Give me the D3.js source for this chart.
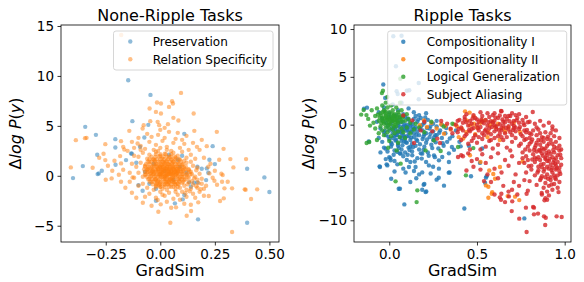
<!DOCTYPE html>
<html><head><meta charset="utf-8">
<script src="https://cdn.jsdelivr.net/npm/d3@7"></script>
<style>body{margin:0;background:#fff} text{font-family:"DejaVu Sans",sans-serif}</style>
</head><body><svg id="c" width="584" height="282"></svg>
<script>
// ---------- Left panel data (None-Ripple Tasks) ----------
const preservation = [[-0.147,9.57],[-0.045,8.1],[-0.128,5.47],[-0.344,4.9],[-0.295,4.1],[-0.206,3.67],[-0.055,5.1],[0.11,4.2],[0.24,2.97],[-0.289,2.1],[-0.206,2.84],[-0.13,2.2],[-0.355,0.97],[-0.4,-0.23],[-0.287,0.17],[-0.282,0.24],[-0.268,0.5],[-0.205,1.1],[-0.157,1.57],[-0.134,2.24],[0.398,0.7],[0.477,-0.16],[0.5,-1.63],[0.398,-4.7],[0.173,-4.36],[-0.1,-0.93],[-0.081,-1.5],[-0.02,-2.5],[0.067,-2.76],[0.103,-2.36],[0.11,-1.93],[0.133,-0.66],[0.171,-0.66],[0.213,0.74],[0.22,0.3],[0.25,1.17],[0.225,1.6],[-0.093,2.9],[-0.073,3.84],[0.1,2.0],[0.02,0.5],[-0.03,1.2],[0.06,-0.4],[0.09,0.9],[-0.05,-0.8],[0.12,0.3],[0.04,2.1],[-0.02,-1.3],[0.14,-1.1],[0.08,1.6],[-0.07,0.4],[0.17,0.9],[0.19,0.7],[-0.11,1.3],[0.155,-0.7],[0.21,-0.43]];

const relationSpecificity = [
[-0.179,14.1],[-0.005,11.2],[0.095,8.3],[-0.015,7.34],[0.003,7.24],[0.054,7.47],[0.058,7.24],[-0.049,6.74],[0.003,6.24],[0.153,6.24],[-0.046,5.47],[-0.012,5.4],[-0.005,5.07],[0.035,5.17],[0.083,5.54],[-0.076,5.07],[-0.387,3.57],[-0.345,3.77],[-0.338,3.8],[-0.252,3.17],[-0.18,3.47],[-0.142,4.5],[-0.081,4.74],[0.156,4.5],[0.259,4.4],[0.213,2.97],[0.168,2.9],[-0.104,3.24],[-0.165,2.64],[-0.41,0.84],[-0.252,1.57],[-0.223,-0.26],[-0.18,1.24],[-0.184,1.97],[0.321,1.67],[0.335,0.84],[0.393,1.67],[0.286,0.07],[0.309,-0.6],[0.283,-0.6],[0.329,-1.26],[0.294,-1.26],[0.387,-1.36],[0.391,-1.4],[0.444,-1.36],[0.416,-2.33],[0.291,-2.26],[0.274,-2.53],[0.222,-2.03],[0.174,-2.66],[0.141,-3.53],[0.121,-4.0],[0.046,-4.7],[0.329,-5.63],[-0.009,-3.6],[0.072,-3.16],[0.002,-2.86],[-0.012,-2.43],[-0.127,-0.16],[0.248,-0.5],[0.225,0.24],
[-0.05,3.4],[-0.02,3.1],[0.01,3.5],[0.03,2.9],[0.06,3.3],[-0.07,2.7],[0.09,2.8],[-0.03,2.6],[0.0,2.8],[0.05,2.5],[0.02,3.8],[-0.01,4.1],[0.04,4.4],[-0.04,3.9],[0.07,3.7],[0.11,3.2],[-0.09,3.0],[0.13,2.6],
[-0.08,2.3],[-0.05,2.1],[-0.02,2.4],[0.0,2.0],[0.02,2.2],[0.04,1.9],[0.06,2.3],[0.08,2.0],[0.1,2.4],[0.12,1.8],[-0.06,1.7],[-0.03,1.6],[0.01,1.7],[0.03,1.5],[0.05,1.6],[0.07,1.8],[0.09,1.6],[-0.1,1.9],[0.14,2.1],[-0.01,2.5],[0.03,2.6],[0.11,1.5],[-0.12,2.0],[0.16,1.7],
[-0.09,1.3],[-0.07,1.0],[-0.05,1.4],[-0.04,0.8],[-0.02,1.2],[-0.01,0.6],[0.0,1.4],[0.01,0.9],[0.02,1.3],[0.03,0.7],[0.04,1.1],[0.05,0.6],[0.06,1.4],[0.07,0.9],[0.08,1.2],[0.09,0.7],[0.1,1.1],[0.11,0.8],[0.12,1.3],[0.13,0.6],[0.15,1.0],[-0.11,0.9],[-0.06,0.6],[0.0,0.8],[0.02,1.0],[0.04,0.5],[0.06,0.8],[-0.03,1.0],[0.08,0.5],[0.14,1.4],[0.17,0.8],[-0.13,1.2],
[-0.1,0.3],[-0.08,-0.1],[-0.06,0.4],[-0.05,-0.3],[-0.03,0.2],[-0.02,-0.4],[-0.01,0.4],[0.0,-0.1],[0.01,0.3],[0.02,-0.3],[0.03,0.1],[0.04,-0.4],[0.05,0.3],[0.06,-0.2],[0.07,0.4],[0.08,0.0],[0.09,-0.3],[0.1,0.2],[0.11,-0.4],[0.12,0.1],[0.13,-0.2],[0.14,0.4],[0.16,-0.1],[0.18,0.2],[-0.12,-0.2],[-0.04,0.0],[0.02,0.5],[0.04,0.2],[0.06,0.1],[0.0,0.2],[-0.02,0.0],[0.03,-0.1],[0.08,0.3],[0.1,-0.1],[-0.07,0.1],[0.05,-0.5],[0.19,-0.3],[-0.14,0.3],
[-0.08,-0.8],[-0.06,-1.2],[-0.04,-0.6],[-0.02,-1.0],[0.0,-0.7],[0.01,-1.3],[0.02,-0.9],[0.03,-1.4],[0.04,-0.7],[0.05,-1.1],[0.06,-0.6],[0.07,-1.3],[0.08,-0.8],[0.09,-1.2],[0.1,-0.7],[0.11,-1.0],[0.12,-1.4],[0.13,-0.6],[0.15,-0.9],[0.17,-1.2],[-0.1,-1.0],[-0.01,-0.5],[0.03,-0.6],[0.07,-0.9],[0.14,-1.3],[0.19,-0.8],[-0.03,-1.4],[0.0,-1.1],[0.2,-1.3],
[-0.05,-1.8],[-0.02,-2.2],[0.0,-1.6],[0.02,-2.0],[0.04,-1.7],[0.06,-2.3],[0.08,-1.9],[0.1,-1.6],[0.12,-2.1],[0.15,-1.8],[-0.07,-2.1],[0.03,-2.6],[0.09,-2.4],[0.18,-1.6],[0.01,-1.9],[0.07,-1.6],
[-0.035,0.55],[-0.015,0.95],[0.005,0.35],[0.025,0.75],[0.045,0.15],[0.065,0.55],[0.015,-0.15],[0.035,0.45],[0.055,0.95],[0.075,0.25],[-0.025,-0.35],[-0.005,0.15],[0.015,0.65],[0.035,1.15],[0.055,-0.25],[0.075,0.65],[0.095,0.45],[-0.045,0.25],[0.005,1.05],[0.025,-0.55],[0.045,0.85],[0.065,-0.65],[0.085,0.85],[-0.055,0.75],[-0.015,-0.75],[0.105,0.55],[0.035,-0.85],[0.015,1.35],[-0.025,1.55],[0.055,1.25],[0.085,-0.45],[-0.005,-0.95],[0.025,0.05],[0.065,0.35],[0.045,-0.35],[0.005,0.55],
[-0.03,0.35],[0.0,0.05],[0.02,0.45],[0.04,0.65],[0.06,0.25],[0.01,0.15],[0.03,0.85],[0.05,0.45],[-0.01,0.75],[0.07,0.05],[0.02,-0.05],[0.04,0.35],[-0.02,0.55],[0.0,0.95],[0.06,0.65],[0.08,0.45],[0.03,0.25],[0.01,0.55],[-0.04,0.45],[0.05,0.15],
[-0.15,2.5],[-0.17,0.6],[-0.14,-0.6],[-0.12,2.8],[-0.16,-1.2],[-0.19,0.1],[-0.13,-1.7],[-0.11,-2.2],[-0.09,2.6],[0.2,1.8],[0.22,0.9],[0.24,-0.2],[0.21,-1.0],[0.23,1.2],[0.18,2.6],[0.16,-2.2],[0.2,-2.0],[0.15,3.3],[0.19,3.6],[0.12,4.0],[0.08,4.3],[-0.06,4.2],[-0.1,3.8],[-0.13,3.4],[-0.17,2.9],[-0.21,1.5],[-0.22,0.5],[-0.18,-0.6],[-0.08,-2.7],[-0.04,-3.0],[0.05,-3.2],[0.11,-2.8],[0.14,-2.9],[0.02,4.8],[0.06,5.8],[-0.02,6.4],[0.04,6.9],[0.0,4.6],[0.1,3.6],[0.17,-0.4],[0.25,0.5],[0.26,-0.9],[0.27,1.6],[0.29,2.7],[0.28,0.2],[-0.24,1.0],[-0.26,2.2],[-0.28,1.8],[-0.31,0.8],[-0.25,-0.4],
[-0.02,2.15],[0.0,2.15],[0.025,2.15],[0.05,2.15],
[-0.04,1.9],[-0.022,1.9],[-0.005,1.9],[0.013,1.9],[0.031,1.9],[0.049,1.9],[0.067,1.9],
[-0.05,1.65],[-0.033,1.65],[-0.016,1.65],[0.001,1.65],[0.018,1.65],[0.035,1.65],[0.052,1.65],[0.069,1.65],[0.086,1.65],
[-0.058,1.4],[-0.041,1.4],[-0.024,1.4],[-0.007,1.4],[0.01,1.4],[0.027,1.4],[0.044,1.4],[0.061,1.4],[0.078,1.4],[0.095,1.4],
[-0.066,1.15],[-0.049,1.15],[-0.032,1.15],[-0.015,1.15],[0.002,1.15],[0.019,1.15],[0.036,1.15],[0.053,1.15],[0.07,1.15],[0.087,1.15],[0.104,1.15],
[-0.07,0.9],[-0.053,0.9],[-0.036,0.9],[-0.019,0.9],[-0.002,0.9],[0.015,0.9],[0.032,0.9],[0.049,0.9],[0.066,0.9],[0.083,0.9],[0.1,0.9],[0.117,0.9],
[-0.074,0.65],[-0.057,0.65],[-0.04,0.65],[-0.023,0.65],[-0.006,0.65],[0.011,0.65],[0.028,0.65],[0.045,0.65],[0.062,0.65],[0.079,0.65],[0.096,0.65],[0.113,0.65],[0.13,0.65],
[-0.07,0.4],[-0.053,0.4],[-0.036,0.4],[-0.019,0.4],[-0.002,0.4],[0.015,0.4],[0.032,0.4],[0.049,0.4],[0.066,0.4],[0.083,0.4],[0.1,0.4],[0.117,0.4],[0.134,0.4],
[-0.066,0.15],[-0.049,0.15],[-0.032,0.15],[-0.015,0.15],[0.002,0.15],[0.019,0.15],[0.036,0.15],[0.053,0.15],[0.07,0.15],[0.087,0.15],[0.104,0.15],[0.121,0.15],[0.138,0.15],
[-0.062,-0.1],[-0.045,-0.1],[-0.028,-0.1],[-0.011,-0.1],[0.006,-0.1],[0.023,-0.1],[0.04,-0.1],[0.057,-0.1],[0.074,-0.1],[0.091,-0.1],[0.108,-0.1],[0.125,-0.1],
[-0.055,-0.35],[-0.038,-0.35],[-0.021,-0.35],[-0.004,-0.35],[0.013,-0.35],[0.03,-0.35],[0.047,-0.35],[0.064,-0.35],[0.081,-0.35],[0.098,-0.35],[0.115,-0.35],
[-0.048,-0.6],[-0.031,-0.6],[-0.014,-0.6],[0.003,-0.6],[0.02,-0.6],[0.037,-0.6],[0.054,-0.6],[0.071,-0.6],[0.088,-0.6],[0.105,-0.6],
[-0.035,-0.85],[-0.018,-0.85],[-0.001,-0.85],[0.016,-0.85],[0.033,-0.85],[0.05,-0.85],[0.067,-0.85],[0.084,-0.85],
[-0.02,-1.1],[0.0,-1.1],[0.02,-1.1],[0.04,-1.1],[0.06,-1.1],[0.08,-1.1],
[0.125,-0.85],[0.145,-0.55],[0.165,-1.05],[0.155,-0.25],[0.135,-1.55],[0.175,-0.75],[0.115,-1.75],[0.185,-1.35],[0.145,0.15],[0.165,0.55]
];

// ---------- Right panel data (Ripple Tasks) ----------
const compositionalityI = [
[0.023,9.24],[0.07,9.3],[0.038,6.1],[0.048,3.2],[0.1,3.55],[0.168,4.35],[0.114,3.6],[0.042,3.5],[-0.034,4.2],[0.168,2.65],[-0.023,2.8],[-0.144,1.67],[-0.127,1.78],[-0.117,-1.75],
[-0.055,-4.36],[0.006,-3.52],[0.054,-6.7],[0.086,-8.34],[0.196,-6.28],[0.211,-6.98],[0.15,-4.43],[0.282,-5.55],[0.312,-6.38],[0.339,-5.02],
[-0.053,-4.43],[0.011,-5.65],[0.061,-6.7],[0.207,-7.05],[0.188,-6.8],[0.2,-6.2],[0.154,-5.6],[0.27,-5.75],[0.344,-5.0],[0.236,-5.1],[0.093,-5.0],[-0.015,-4.15],
[-0.011,-4.26],[0.046,-4.15],[0.112,-4.43],[0.141,-4.85],[0.188,-4.99],[0.226,-4.26],[0.283,-4.6],[0.302,-3.39],[0.34,-3.91],[0.008,-3.73],[0.065,-3.03],[0.131,-3.21],[0.188,-3.03],[0.255,-3.21],[0.283,-3.73],[0.369,-2.62],[0.407,-2.27],[-0.021,-2.51],
[0.517,-4.0],[0.555,-5.4],[0.466,-5.4],[0.53,-2.5],[0.454,-2.2],[0.428,-8.76],[0.77,-9.8],[0.551,-5.54],[0.546,-6.07],[0.262,-1.1],[0.357,-2.34],
[-0.03,1.8],[0.0,1.2],[0.02,2.1],[0.05,1.5],[0.08,1.1],[0.11,1.7],[0.14,1.3],[0.17,1.0],[-0.06,1.3],[0.07,2.3],[0.21,1.2],[0.04,1.0],
[-0.04,0.6],[-0.02,0.2],[0.0,0.8],[0.02,0.4],[0.03,0.9],[0.05,0.2],[0.06,0.7],[0.08,0.3],[0.09,0.8],[0.11,0.5],[0.12,0.1],[0.14,0.6],[0.16,0.3],[0.18,0.7],[0.2,0.2],[0.22,0.5],[0.25,0.1],[0.27,0.4],[0.3,0.0],[0.01,0.1],[0.1,0.0],[0.15,0.9],[-0.07,0.3],[0.19,0.0],
[-0.05,-0.4],[-0.03,-0.8],[-0.01,-0.2],[0.0,-0.6],[0.02,-0.9],[0.03,-0.3],[0.04,-0.7],[0.05,-0.1],[0.06,-0.5],[0.07,-0.9],[0.08,-0.2],[0.09,-0.6],[0.1,-0.4],[0.11,-0.8],[0.12,-0.1],[0.13,-0.5],[0.14,-0.9],[0.15,-0.3],[0.16,-0.7],[0.18,-0.2],[0.19,-0.6],[0.21,-0.9],[0.23,-0.4],[0.25,-0.7],[0.27,-0.2],[0.29,-0.6],[0.32,-0.9],[0.02,-0.5],[0.05,-0.8],[0.08,-0.5],[0.11,-0.3],[0.06,-0.2],[0.035,-0.45],[0.075,-0.65],[0.095,-0.15],[0.125,-0.75],[0.145,-0.45],
[-0.06,-1.4],[-0.04,-1.8],[-0.02,-1.1],[0.0,-1.5],[0.01,-1.9],[0.03,-1.2],[0.04,-1.6],[0.05,-2.0],[0.06,-1.3],[0.07,-1.7],[0.08,-1.1],[0.09,-1.5],[0.1,-1.9],[0.11,-1.2],[0.12,-1.6],[0.13,-2.0],[0.14,-1.3],[0.16,-1.7],[0.17,-1.1],[0.19,-1.5],[0.21,-1.9],[0.23,-1.3],[0.25,-1.6],[0.27,-1.1],[0.3,-1.4],[0.33,-1.8],[0.36,-1.2],[0.04,-1.1],[0.07,-1.4],[0.1,-1.2],[0.02,-1.4],[0.085,-1.75],
[-0.03,-2.4],[-0.01,-2.8],[0.01,-2.3],[0.03,-2.7],[0.05,-2.2],[0.07,-2.6],[0.09,-2.9],[0.11,-2.4],[0.13,-2.8],[0.15,-2.2],[0.17,-2.6],[0.2,-2.3],[0.22,-2.9],[0.24,-2.1],[0.28,-2.5],[0.31,-2.2],[-0.05,-2.9],[0.06,-3.0],[0.18,-3.0],
[0.0,-3.4],[0.03,-3.8],[0.08,-3.3],[0.1,-3.7],[0.16,-3.5],[0.21,-3.9],[0.26,-3.4],[0.12,-3.9],[-0.02,-3.6],
[0.015,-0.35],[0.045,-1.05],[0.065,-0.75],[0.085,-1.25],[0.105,-0.55],[0.125,-1.35],[0.135,-0.25],[0.155,-1.05],[0.175,-0.45],[0.195,-1.25],[0.215,-0.35],[0.235,-0.95],[0.255,-1.35],[0.035,-1.65],[0.055,-2.45],[0.075,-2.15],[0.095,-1.85],[0.115,-2.65],[0.135,-2.35],[0.155,-1.55],[0.175,-2.05],[0.195,-2.65],[0.215,-1.55],[0.245,-2.45],[0.265,-1.85],[0.285,-0.85],[0.305,-1.95],[0.325,-0.35],[0.345,-1.45],[0.015,-2.05],[-0.005,-1.25],[-0.025,-0.65],[0.025,-3.15],[0.045,-2.85],[0.105,-3.15],[0.145,-3.85],[0.185,-3.55],[0.225,-3.25],[0.065,0.25],[0.105,0.65],[0.135,0.15],[0.165,0.55],[0.205,0.75],[0.235,-0.15],[0.085,-0.05],[0.045,0.45],[0.12,-2.3],[0.2,-1.0],[0.38,-0.6],[0.4,-1.8],[0.34,-3.0],[0.08,-4.6],[0.03,-4.9],[0.17,-5.2],[0.12,-6.0],[0.25,-4.4]
];

const compositionalityII = [
[0.175,-0.07],[0.198,0.45],[0.215,-0.25],[0.296,0.03],[0.32,-0.14],[0.369,0.03],[0.312,-0.94],[0.386,-0.18],[0.396,-1.3],
[0.432,1.39],[0.458,1.26],[0.481,0.87],[0.441,0.45],[0.46,-0.07],[0.413,-0.42],[0.483,0.1],[0.422,-1.46],[0.546,0.45],[0.528,0.45],[0.574,-0.07],[0.565,-0.77],[0.604,-0.25],[0.65,-0.42],[0.661,-0.77],[0.745,-0.77],[0.5,-0.3],[0.52,0.2],[0.59,0.3],[0.62,0.1],[0.68,-0.3],[0.71,0.2],[0.44,-0.8],[0.35,-0.5],[0.27,-0.4],[0.24,0.2],[0.49,-1.0],[0.56,-1.3],[0.63,-1.6],
[0.46,-3.2],[0.631,-4.43],[0.76,-3.84],[0.593,-5.16],[0.565,-6.5],[0.587,-7.05],[0.675,-7.47],[0.603,-5.65],[0.551,-6.35],[0.584,-7.22],[0.565,-7.64],[0.717,-7.53],[0.741,-7.89],[0.52,-3.9],[0.57,-4.8]
];

const logicalGeneralization = [
[-0.146,1.53],[-0.16,1.05],[-0.036,3.55],[-0.042,3.3],[0.063,4.8],[-0.114,-1.82],[-0.129,-1.92],[0.036,-5.93],[0.16,-6.87],[0.156,-8.1],[0.065,-4.08],[-0.006,-2.41],[0.042,-2.69],[0.293,-2.76],[0.392,-2.34],[0.207,-2.69],[0.479,-2.45],[0.437,-5.3],[-0.011,2.89],[-0.021,1.39],[0.061,2.3],[0.255,-1.64],[0.24,0.3],[0.31,-0.2],[0.36,0.1],
[-0.1,1.5],[-0.08,0.9],[-0.07,1.7],[-0.06,0.4],[-0.05,1.2],[-0.04,2.0],[-0.04,0.7],[-0.03,1.5],[-0.03,0.1],[-0.02,1.0],[-0.02,2.3],[-0.01,0.5],[-0.01,1.8],[0.0,0.2],[0.0,1.3],[0.01,0.8],[0.01,2.0],[0.02,0.4],[0.02,1.5],[0.03,0.0],[0.03,1.1],[0.04,0.6],[0.04,1.8],[0.05,0.2],[0.05,1.3],[0.06,0.8],[0.07,0.3],[0.07,1.5],[0.08,0.9],[0.09,0.4],[0.1,1.1],[0.11,0.6],[0.12,0.2],
[-0.09,0.2],[-0.08,-0.4],[-0.06,-0.9],[-0.05,-0.2],[-0.04,-0.6],[-0.03,-1.1],[-0.02,-0.3],[-0.01,-0.8],[0.0,-0.4],[0.01,-1.2],[0.02,-0.5],[0.03,-0.9],[0.04,-0.2],[0.05,-0.7],[0.06,-1.3],[0.07,-0.4],[0.08,-0.8],[0.1,-0.3],[0.12,-0.9],[0.14,-0.5],[-0.12,0.6],[-0.11,-0.1],[-0.13,1.0],[-0.07,-1.6],[0.0,-1.7],[0.05,-1.9],[0.09,-1.4],[0.15,0.1],[0.17,-0.3],[0.2,-0.8],
[-0.045,0.95],[-0.025,0.65],[-0.005,1.05],[0.015,0.65],[0.035,0.85],[-0.035,0.35],[-0.015,0.15],[0.005,0.45],[0.025,0.95],[-0.055,0.75],[0.045,0.35],[-0.025,1.25],[-0.005,0.75],[0.015,1.15],[0.065,0.55],[-0.065,1.05],[0.035,0.25],[-0.015,0.55],[0.005,0.05],[0.025,-0.15],[0.055,1.05],[-0.045,0.15],[-0.035,1.35],[0.015,0.35],[0.045,0.75],[-0.005,-0.05],[0.075,0.75],[-0.02,0.85],[0.0,0.6],[0.02,0.7],[-0.04,0.45],[0.03,0.5]
];

const subjectAliasing = [
[0.08,0.97],[0.131,0.45],[0.179,-0.6],[0.245,-0.7],[0.296,0.38],[0.35,-0.42],[0.274,-1.46],[0.141,-1.92],[0.289,-1.92],[0.392,-3.39],[0.41,-3.2],[0.2,0.3],[0.33,0.1],[0.36,-0.9],[0.39,0.4],
[0.44,1.1],[0.52,1.3],[0.59,1.0],[0.64,1.4],[0.7,1.2],[0.48,1.0],[0.56,1.2],[0.68,0.9],[0.74,1.1],[0.637,1.42],[0.818,1.32],
[0.4,0.5],[0.43,0.8],[0.46,0.4],[0.49,0.7],[0.51,0.3],[0.53,0.9],[0.55,0.5],[0.57,0.8],[0.6,0.4],[0.62,0.7],[0.65,0.3],[0.67,0.6],[0.69,0.9],[0.71,0.4],[0.73,0.7],[0.76,0.5],[0.78,0.8],[0.58,0.35],[0.63,0.95],[0.5,0.55],
[0.38,0.0],[0.41,-0.3],[0.42,0.2],[0.45,-0.1],[0.47,0.1],[0.48,-0.35],[0.5,0.0],[0.52,-0.25],[0.54,0.15],[0.56,-0.1],[0.57,-0.4],[0.59,0.2],[0.61,-0.2],[0.63,0.05],[0.64,-0.35],[0.66,0.25],[0.68,-0.15],[0.7,0.1],[0.72,-0.3],[0.74,0.2],[0.77,-0.05],[0.79,0.25],[0.53,0.3],[0.6,-0.05],[0.65,-0.1],[0.44,0.25],[0.71,-0.1],
[0.39,-0.8],[0.42,-0.6],[0.44,-1.0],[0.46,-0.7],[0.49,-1.1],[0.51,-0.6],[0.53,-0.9],[0.55,-0.5],[0.58,-1.0],[0.6,-0.7],[0.62,-1.2],[0.64,-0.6],[0.66,-0.9],[0.68,-0.5],[0.7,-1.1],[0.72,-0.7],[0.75,-1.0],[0.77,-0.6],[0.8,-0.9],[0.56,-0.85],[0.61,-0.45],[0.69,-0.8],[0.47,-0.45],[0.74,-0.45],
[0.41,-1.6],[0.45,-2.0],[0.48,-1.4],[0.5,-1.9],[0.53,-1.5],[0.55,-2.3],[0.57,-1.7],[0.6,-1.4],[0.62,-2.1],[0.65,-1.6],[0.67,-2.4],[0.7,-1.8],[0.72,-1.4],[0.74,-2.2],[0.59,-2.5],[0.52,-2.6],[0.78,-1.5],[0.64,-1.3],[0.46,-2.6],[0.69,-2.7],
[0.8,0.3],[0.83,0.1],[0.86,0.4],[0.88,-0.1],[0.91,0.2],[0.84,-0.3],[0.93,-0.2],
[0.76,-1.2],[0.78,-0.8],[0.8,-1.4],[0.82,-0.6],[0.84,-1.1],[0.85,-0.5],[0.87,-1.3],[0.89,-0.8],[0.9,-1.5],[0.92,-0.9],[0.94,-1.2],[0.95,-0.6],[0.97,-1.4],[0.81,-1.0],[0.86,-0.9],[0.88,-1.4],[0.93,-0.5],
[0.75,-2.0],[0.77,-1.6],[0.79,-2.3],[0.81,-1.8],[0.83,-2.4],[0.85,-1.6],[0.86,-2.1],[0.88,-1.8],[0.89,-2.5],[0.91,-2.0],[0.92,-1.6],[0.94,-2.3],[0.95,-1.8],[0.97,-2.2],[0.98,-2.6],[0.8,-2.0],[0.84,-1.9],[0.9,-2.2],[0.87,-2.45],[0.93,-2.0],
[0.76,-2.9],[0.78,-3.3],[0.8,-2.7],[0.82,-3.1],[0.84,-2.8],[0.85,-3.4],[0.87,-3.0],[0.88,-2.6],[0.9,-3.2],[0.91,-2.8],[0.93,-3.4],[0.94,-2.9],[0.96,-3.2],[0.97,-2.7],[0.98,-3.5],[0.83,-3.45],[0.89,-3.45],[0.92,-3.05],[0.86,-2.75],[0.95,-3.5],
[0.77,-4.0],[0.79,-3.7],[0.81,-4.3],[0.83,-3.9],[0.85,-4.4],[0.86,-3.7],[0.88,-4.1],[0.89,-3.6],[0.9,-4.4],[0.91,-3.8],[0.92,-4.2],[0.94,-3.7],[0.95,-4.3],[0.96,-3.9],[0.98,-4.2],[0.87,-4.45],[0.93,-4.5],[0.84,-3.6],
[0.78,-5.0],[0.81,-4.7],[0.83,-5.3],[0.85,-4.8],[0.87,-5.4],[0.88,-4.9],[0.9,-5.2],[0.91,-4.6],[0.92,-5.5],[0.93,-5.0],[0.95,-4.7],[0.96,-5.3],[0.97,-4.9],[0.89,-5.5],[0.94,-5.3],
[0.8,-5.9],[0.84,-6.3],[0.86,-5.8],[0.88,-6.6],[0.89,-6.1],[0.9,-7.0],[0.91,-6.4],[0.92,-5.8],[0.93,-6.8],[0.94,-6.2],[0.95,-5.7],[0.96,-6.6],[0.97,-6.0],[0.87,-7.3],[0.89,-7.7],[0.91,-7.4],[0.885,-7.9],
[0.42,-3.3],[0.48,-4.4],[0.45,-3.0],[0.5,-3.6],[0.53,-3.1],[0.55,-4.0],[0.58,-3.4],[0.6,-4.6],[0.62,-3.0],[0.64,-5.0],[0.66,-3.7],[0.68,-4.3],[0.7,-3.3],[0.72,-5.2],[0.74,-4.0],[0.71,-6.0],[0.65,-6.4],[0.62,-5.6],[0.68,-7.0],[0.63,-7.6],[0.7,-6.8],[0.74,-6.4],[0.77,-5.8],[0.58,-6.0],[0.52,-4.7],[0.56,-5.2],[0.66,-8.1],[0.6,-7.3],[0.73,-7.3],[0.54,-5.9],[0.76,-3.5],[0.79,-6.9],[0.47,-3.8],[0.44,-4.8],
[0.639,-7.22],[0.682,-7.5],[0.701,-8.02],[0.637,-7.85],[0.779,-8.68],[0.825,-8.68],[0.698,-9.04],[0.825,-9.38],[0.741,-9.83],[0.882,-9.59],[0.892,-9.73],[0.889,-10.5],[0.783,-11.23],[0.954,-9.59],[0.983,-9.66],[0.869,-7.15],[0.9,-7.85],[0.783,-7.22],[0.848,-9.3],[0.82,-8.6],
[0.395,-0.45],[0.43,0.55],[0.455,-0.55],[0.475,0.65],[0.505,-0.35],[0.525,0.55],[0.545,-0.65],[0.565,0.25],[0.585,-0.25],[0.605,0.75],[0.625,-0.55],[0.645,0.55],[0.665,-0.35],[0.685,0.35],[0.705,-0.55],[0.725,0.45],[0.745,-0.25],[0.765,0.15],[0.785,-0.55],[0.51,-1.3],[0.54,-1.1],[0.58,-1.6],[0.63,-0.95],[0.67,-1.3],[0.71,-0.35],[0.47,-1.7],[0.43,-1.2],[0.6,1.2],[0.66,0.9],[0.72,1.0],
[0.815,-1.55],[0.835,-2.15],[0.855,-2.65],[0.875,-3.25],[0.895,-2.95],[0.915,-3.55],[0.935,-3.95],[0.955,-4.55],[0.975,-5.15],[0.865,-4.15],[0.885,-4.65],[0.905,-5.65],[0.925,-6.25],[0.945,-5.55],[0.965,-7.05],[0.955,-2.45],[0.975,-3.15],[0.935,-2.65],[0.905,-1.25],[0.865,-1.65],[0.825,-2.65],[0.815,-3.65],[0.795,-4.35],[0.775,-2.6],[0.845,-5.0],[0.865,-5.6],[0.945,-4.1],[0.97,-4.5],[0.925,-4.75],[0.9,-3.8]
];

// ---------- Axes ticks ----------
const leftXTicks = [-0.25, 0, 0.25, 0.5];
const leftYTicks = [-5, 0, 5, 10, 15];
const rightXTicks = [0, 0.5, 1.0];
const rightYTicks = [-10, -5, 0, 5, 10];

const C = {blue:"#1f77b4", orange:"#ff7f0e", green:"#2ca02c", red:"#d62728"};
const svg = d3.select("#c");

function drawPanel(p) {
  const g = svg.append("g");
  const x = d3.scaleLinear().domain(p.xDomain).range([p.left, p.right]);
  const y = d3.scaleLinear().domain(p.yDomain).range([p.bottom, p.top]);
  p.series.forEach(s => {
    g.append("g").selectAll("circle").data(s.data).join("circle")
      .attr("cx", d => x(d[0])).attr("cy", d => y(d[1])).attr("r", 2.2)
      .attr("fill", s.color).attr("fill-opacity", p.alpha);
  });
  g.append("rect").attr("x", p.left).attr("y", p.top)
    .attr("width", p.right - p.left).attr("height", p.bottom - p.top)
    .attr("fill", "none").attr("stroke", "#000").attr("stroke-width", 0.8);
  const xa = g.append("g").attr("transform", `translate(0,${p.bottom})`)
    .call(d3.axisBottom(x).tickValues(p.xTicks).tickFormat(d3.format(p.xFmt)).tickSize(3.5).tickPadding(3.5).tickSizeOuter(0));
  const ya = g.append("g").attr("transform", `translate(${p.left},0)`)
    .call(d3.axisLeft(y).tickValues(p.yTicks).tickFormat(d3.format("d")).tickSize(3.5).tickPadding(3.5).tickSizeOuter(0));
  [xa, ya].forEach(a => {
    a.select(".domain").remove();
    a.selectAll("text").attr("font-size", 13.5).attr("font-family", "DejaVu Sans").attr("fill", "#000");
    a.selectAll("line").attr("stroke", "#000").attr("stroke-width", 0.8);
  });
  const cx = (p.left + p.right) / 2, cy = (p.top + p.bottom) / 2;
  g.append("text").attr("x", cx).attr("y", 20.5).attr("text-anchor", "middle")
    .attr("font-size", 16).text(p.title);
  g.append("text").attr("x", cx).attr("y", 275.5).attr("text-anchor", "middle")
    .attr("font-size", 16).text("GradSim");
  const yl = g.append("text").attr("transform", `translate(${p.ylabelX},${cy}) rotate(-90)`)
    .attr("text-anchor", "middle").attr("font-size", 16);
  yl.append("tspan").text("Δ");
  yl.append("tspan").attr("font-style", "italic").text("log P");
  yl.append("tspan").text("(");
  yl.append("tspan").attr("font-style", "italic").text("y");
  yl.append("tspan").text(")");
  const L = p.legend;
  g.append("rect").attr("x", L.x0).attr("y", L.y0).attr("width", L.x1 - L.x0).attr("height", L.y1 - L.y0)
    .attr("rx", 2.5).attr("fill", "#fff").attr("fill-opacity", 0.8).attr("stroke", "#cccccc").attr("stroke-width", 0.8);
  p.series.forEach((s, i) => {
    const ry = L.row0 + i * L.step;
    g.append("circle").attr("cx", L.mx).attr("cy", ry).attr("r", 2.2).attr("fill", s.color).attr("fill-opacity", p.alpha);
    g.append("text").attr("x", L.tx).attr("y", ry + 4.3).attr("font-size", 12).text(s.name);
  });
}

drawPanel({
  left: 61, right: 279, top: 25, bottom: 242,
  xDomain: [-0.455, 0.544], yDomain: [-6.63, 15.1],
  xTicks: leftXTicks, yTicks: leftYTicks, xFmt: ".2f",
  title: "None-Ripple Tasks", ylabelX: 20.5, alpha: 0.5,
  series: [
    {name: "Preservation", color: C.blue, data: preservation},
    {name: "Relation Specificity", color: C.orange, data: relationSpecificity}
  ],
  legend: {x0: 113.5, x1: 273, y0: 31, y1: 70, mx: 130.3, tx: 152.7, row0: 41.5, step: 17.7}
});

drawPanel({
  left: 354, right: 571, top: 25, bottom: 242,
  xDomain: [-0.201, 1.036], yDomain: [-12.27, 10.42],
  xTicks: rightXTicks, yTicks: rightYTicks, xFmt: ".1f",
  title: "Ripple Tasks", ylabelX: 313.5, alpha: 0.8,
  series: [
    {name: "Compositionality I", color: C.blue, data: compositionalityI},
    {name: "Compositionality II", color: C.orange, data: compositionalityII},
    {name: "Logical Generalization", color: C.green, data: logicalGeneralization},
    {name: "Subject Aliasing", color: C.red, data: subjectAliasing}
  ],
  legend: {x0: 387.7, x1: 566.7, y0: 31, y1: 105, mx: 403.3, tx: 426.7, row0: 41.8, step: 17.5}
});
</script>
</body></html>
